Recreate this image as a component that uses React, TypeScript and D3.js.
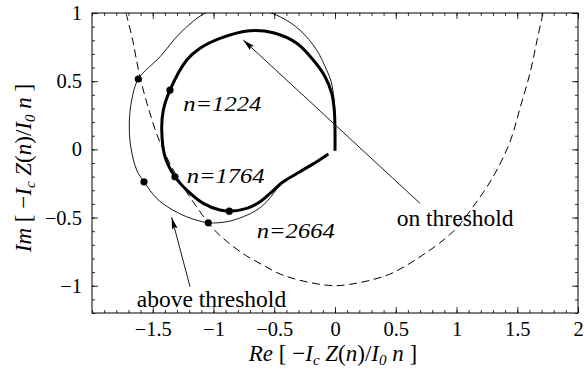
import * as d3 from 'd3';
import { useRef, useEffect } from 'react';

// threshold boundary (dashed)
const boundaryRe = [-1.72, -1.665, -1.61, -1.535, -1.44, -1.30, -1.14, -1.01, -0.87, -0.73, -0.59, -0.45, -0.29, -0.12, 0, 0.12, 0.29, 0.45, 0.59, 0.72, 0.86, 1.0, 1.135, 1.30, 1.44, 1.525, 1.605, 1.663, 1.712];
const boundaryIm = [1.0, 0.8, 0.55, 0.3, 0.05, -0.2, -0.42, -0.575, -0.69, -0.78, -0.85, -0.915, -0.96, -0.99, -1.0, -0.99, -0.96, -0.915, -0.85, -0.776, -0.688, -0.578, -0.423, -0.203, 0.054, 0.31, 0.56, 0.8, 1.0];

// above threshold (thin)
const aboveRe = [0, 0, -0.014, -0.035, -0.068, -0.15, -0.288, -0.453, -0.66, -0.86, -1.07, -1.276, -1.44, -1.619, -1.673, -1.693, -1.681, -1.632, -1.572, -1.467, -1.358, -1.22, -1.111, -1.043, -0.891, -0.755, -0.644, -0.562, -0.426, -0.288, -0.151, -0.055];
const aboveIm = [-0.01, 0.266, 0.41, 0.508, 0.58, 0.727, 0.874, 0.973, 1.035, 1.05, 0.998, 0.851, 0.679, 0.516, 0.362, 0.193, 0.019, -0.152, -0.238, -0.36, -0.433, -0.495, -0.526, -0.539, -0.531, -0.494, -0.445, -0.384, -0.238, -0.164, -0.091, -0.034];

// on threshold (thick)
const onRe = [0, 0, -0.006, -0.027, -0.082, -0.179, -0.315, -0.508, -0.70, -0.947, -1.111, -1.22, -1.358, -1.413, -1.426, -1.399, -1.317, -1.22, -1.084, -0.947, -0.87, -0.727, -0.617, -0.535, -0.426, -0.288, -0.151, -0.055];
const onIm = [-0.01, 0.14, 0.288, 0.411, 0.533, 0.655, 0.778, 0.855, 0.87, 0.814, 0.741, 0.655, 0.435, 0.288, 0.142, -0.054, -0.201, -0.299, -0.396, -0.445, -0.453, -0.433, -0.384, -0.323, -0.238, -0.164, -0.091, -0.034];

// marked modes n = 1224, 1764, 2664
const dotsAboveRe = [-1.619, -1.572, -1.043];
const dotsAboveIm = [0.516, -0.238, -0.539];
const dotsOnRe = [-1.358, -1.317, -0.87];
const dotsOnIm = [0.435, -0.201, -0.453];

const modeLabels = ['n=1224', 'n=1764', 'n=2664'];
const modeLabelRe = [-1.249, -1.221, -0.644];
const modeLabelIm = [0.283, -0.247, -0.653];

const xTicks = [-1.5, -1, -0.5, 0, 0.5, 1, 1.5, 2];
const yTicks = [-1, -0.5, 0, 0.5, 1];

const zip = (a: number[], b: number[]) => a.map((v, i) => [v, b[i]] as [number, number]);

const width = 584;
const height = 371;
const margin = { top: 13, right: 6, bottom: 58, left: 92 };
const font = 'Liberation Serif';

const fmt = (v: number) => (v < 0 ? '\u2212' + String(-v) : String(v));

// axis title with italic symbols and subscripts
const AxisTitle = ({ lead, transform, x, y }: { lead: string; transform?: string; x?: number; y?: number }) => (
  <text x={x} y={y} transform={transform} textAnchor="middle" fontFamily={font} fontSize={23} fill="#000">
    <tspan fontStyle="italic">{lead}</tspan>
    <tspan> [ −</tspan>
    <tspan fontStyle="italic">I</tspan>
    <tspan fontSize={15} dy={4} fontStyle="italic">c</tspan>
    <tspan dy={-4}> </tspan>
    <tspan fontStyle="italic">Z</tspan>
    <tspan>(</tspan>
    <tspan fontStyle="italic">n</tspan>
    <tspan>)/</tspan>
    <tspan fontStyle="italic">I</tspan>
    <tspan fontSize={15} dy={4} fontStyle="italic">0</tspan>
    <tspan dy={-4}> </tspan>
    <tspan fontStyle="italic">n</tspan>
    <tspan> ]</tspan>
  </text>
);

const App = () => {
  const ref = useRef<SVGSVGElement>(null);

  const x = d3.scaleLinear().domain([-2, 2]).range([margin.left, width - margin.right]);
  const y = d3.scaleLinear().domain([-1.2, 1]).range([height - margin.bottom, margin.top]);

  useEffect(() => {
    if (!ref.current) return;
    const svg = d3.select(ref.current);
    const g = svg.select('.axes');
    g.selectAll('*').remove();

    const minorX = d3.range(-20, 21).map(d => d / 10);
    const minorY = d3.range(-12, 11).map(d => d / 10);
    const x0 = x.range()[0], x1 = x.range()[1];
    const y0 = y.range()[0], y1 = y.range()[1];

    const addAxis = (axis: any, tx: number, ty: number) => {
      const a = g.append('g').attr('transform', `translate(${tx},${ty})`).call(axis);
      a.select('.domain').remove();
      a.selectAll('line').attr('stroke', '#000').attr('stroke-width', 0.8);
      return a;
    };
    const noLabel = () => '';

    // minor ticks, all four sides, pointing inward
    addAxis(d3.axisBottom(x).tickValues(minorX).tickSize(-3).tickFormat(noLabel), 0, y0);
    addAxis(d3.axisTop(x).tickValues(minorX).tickSize(-3).tickFormat(noLabel), 0, y1);
    addAxis(d3.axisLeft(y).tickValues(minorY).tickSize(-3).tickFormat(noLabel), x0, 0);
    addAxis(d3.axisRight(y).tickValues(minorY).tickSize(-3).tickFormat(noLabel), x1, 0);

    // major ticks with labels
    const bx = addAxis(d3.axisBottom(x).tickValues(xTicks).tickSize(-6).tickPadding(12).tickFormat((d: any) => fmt(d)), 0, y0);
    addAxis(d3.axisTop(x).tickValues(xTicks).tickSize(-6).tickFormat(noLabel), 0, y1);
    const ly = addAxis(d3.axisLeft(y).tickValues(yTicks).tickSize(-6).tickPadding(10).tickFormat((d: any) => fmt(d)), x0, 0);
    addAxis(d3.axisRight(y).tickValues(yTicks).tickSize(-6).tickFormat(noLabel), x1, 0);

    [bx, ly].forEach(a =>
      a.selectAll('text')
        .attr('fill', '#000')
        .attr('font-family', font)
        .attr('font-size', 20.5)
    );
    bx.selectAll('text').attr('dy', '0.55em');
    ly.selectAll('text').attr('dy', '0.32em');
  }, []);

  const line = d3.line<[number, number]>()
    .x(d => x(d[0]))
    .y(d => y(d[1]))
    .curve(d3.curveCatmullRom.alpha(0.5));

  const arrows = [
    { from: [0.70, -0.396], to: [-0.755, 0.802] },
    { from: [-1.193, -1.008], to: [-1.344, -0.499] },
  ];

  const iw = x.range()[1] - x.range()[0];
  const ih = y.range()[0] - y.range()[1];

  return (
    <svg ref={ref} width={width} height={height} style={{ position: 'absolute', left: 0, top: 0, background: '#fff' }}>
      <defs>
        <clipPath id="plot">
          <rect x={x.range()[0]} y={y.range()[1]} width={iw} height={ih} />
        </clipPath>
        <marker id="head" viewBox="0 0 12 6" refX="12" refY="3" markerWidth="12" markerHeight="6" markerUnits="userSpaceOnUse" orient="auto">
          <path d="M0,0 L12,3 L0,6 L2,3 Z" fill="#000" />
        </marker>
      </defs>
      <g clipPath="url(#plot)">
        <path d={line(zip(boundaryRe, boundaryIm)) || ''} fill="none" stroke="#000" strokeWidth={1} strokeDasharray="8,4.5" />
        <path d={line(zip(aboveRe, aboveIm)) || ''} fill="none" stroke="#000" strokeWidth={0.9} />
        <path d={line(zip(onRe, onIm)) || ''} fill="none" stroke="#000" strokeWidth={3} />
        {zip(dotsAboveRe, dotsAboveIm).concat(zip(dotsOnRe, dotsOnIm)).map((d, i) => (
          <circle key={i} cx={x(d[0])} cy={y(d[1])} r={3.6} fill="#000" />
        ))}
        {arrows.map((a, i) => (
          <line key={i} x1={x(a.from[0])} y1={y(a.from[1])} x2={x(a.to[0])} y2={y(a.to[1])} stroke="#000" strokeWidth={0.9} markerEnd="url(#head)" />
        ))}
      </g>
      <rect x={x.range()[0]} y={y.range()[1]} width={iw} height={ih} fill="none" stroke="#000" strokeWidth={1} />
      <g className="axes" />
      {modeLabels.map((t, i) => (
        <text key={t} x={x(modeLabelRe[i])} y={y(modeLabelIm[i])} fontFamily={font} fontStyle="italic" fontSize={20} textLength={78} lengthAdjust="spacingAndGlyphs" fill="#000">{t}</text>
      ))}
      <text x={x(0.508)} y={y(-0.56)} fontFamily={font} fontSize={23.5} fill="#000">on threshold</text>
      <text x={x(-1.632)} y={y(-1.155)} fontFamily={font} fontSize={23.5} fill="#000">above threshold</text>
      <AxisTitle lead="Re" x={333} y={361} />
      <AxisTitle lead="Im" transform="translate(31,168) rotate(-90)" />
    </svg>
  );
};

export default App;
